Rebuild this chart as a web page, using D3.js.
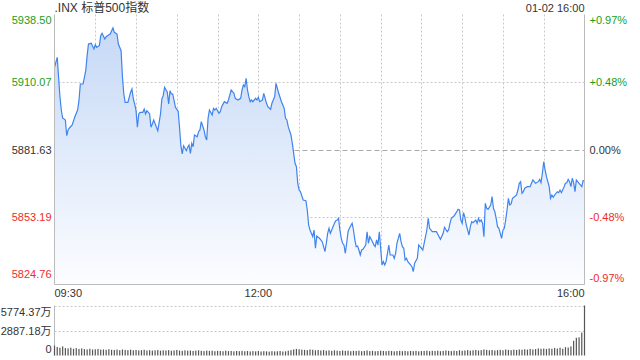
<!DOCTYPE html>
<html>
<head>
<meta charset="utf-8">
<script src="https://cdn.jsdelivr.net/npm/d3@7"></script>
<style>
  body { margin: 0; background: #fff; }
  svg text { font-family: "Liberation Sans", Arial, "Noto Sans CJK SC", sans-serif; }
</style>
</head>
<body>
<div id="chart"></div>
<script>
// data
const title = ".INX 标普500指数";
const stamp = "01-02 16:00";
const preClose = 5881.63;
const priceTicks = [5938.50, 5910.07, 5881.63, 5853.19, 5824.76];
const pctTicks = ["+0.97%", "+0.48%", "0.00%", "-0.48%", "-0.97%"];
const timeLabels = ["09:30", "12:00", "16:00"];
const timeLabelMins = [0, 150, 390];
const volTicks = [5774.37, 2887.18, 0];

// minutes after 09:30
const mins = [0,2,4,5,6,8,9,10,11,13,15,17,18,19,21,23,24,25,27,29,30,31,33,34,35,37,38,40,41,43,44,46,47,49,50,51,52,54,56,57,58,59,60,61,62,63,65,66,67,68,70,71,72,73,75,76,78,79,80,81,83,84,85,86,87,88,89,91,92,93,94,95,97,98,99,100,101,102,103,105,106,107,108,110,111,112,113,114,116,117,118,119,121,122,123,125,127,128,130,132,133,135,137,138,139,140,141,142,143,144,145,146,148,149,150,151,153,154,155,156,157,159,160,162,163,164,165,167,168,169,170,171,172,174,175,177,178,179,180,181,183,185,186,187,188,189,190,191,192,193,194,195,197,198,199,200,201,202,203,204,206,207,208,209,210,211,212,213,214,215,216,217,219,220,221,222,223,224,225,226,227,229,230,231,232,234,235,236,237,238,239,240,241,242,243,244,245,246,247,249,250,251,252,254,255,256,257,258,259,260,262,263,264,265,267,268,269,270,271,273,274,275,276,278,279,281,283,284,286,287,289,290,291,292,294,296,297,298,299,300,301,302,303,305,306,307,308,310,311,312,313,314,315,316,317,318,319,321,322,323,324,325,326,327,329,330,331,332,333,334,335,336,337,338,340,341,342,343,344,345,346,348,350,351,352,353,354,356,357,358,359,360,361,362,364,365,366,367,368,370,371,372,373,375,376,377,378,379,380,381,382,383,384,386,387,388,389,390];

const prices = [5916.26,5920.47,5903.87,5898.27,5894.90,5894.06,5887.45,5889.85,5890.69,5891.95,5895.45,5898.27,5902.19,5909.22,5909.22,5914.83,5921.15,5926.07,5926.37,5923.97,5925.78,5924.68,5925.36,5929.57,5930.58,5928.18,5929.15,5929.99,5930.29,5932.81,5931.00,5930.29,5926.07,5923.25,5912.05,5905.01,5901.52,5901.52,5905.73,5907.12,5902.91,5900.80,5897.98,5890.98,5896.59,5897.30,5897.30,5898.69,5896.59,5897.98,5896.59,5890.98,5892.37,5894.06,5890.98,5889.55,5896.59,5902.91,5904.30,5907.83,5905.73,5900.80,5906.40,5905.01,5905.01,5902.19,5899.41,5897.72,5890.98,5883.23,5879.74,5883.23,5881.13,5882.56,5883.53,5880.03,5884.24,5882.81,5887.74,5887.02,5889.13,5889.85,5893.34,5889.85,5887.02,5885.63,5894.77,5898.27,5896.17,5898.99,5898.27,5898.99,5896.88,5897.56,5899.66,5901.77,5901.09,5902.48,5906.70,5905.31,5903.20,5902.48,5903.20,5906.70,5908.80,5908.09,5911.63,5906.70,5903.87,5901.77,5902.48,5901.77,5903.20,5902.48,5903.62,5901.77,5902.48,5905.31,5903.20,5901.09,5899.66,5898.57,5901.09,5903.87,5909.52,5907.41,5905.31,5901.77,5900.38,5898.99,5894.77,5894.06,5891.24,5887.74,5884.24,5875.82,5874.39,5867.39,5864.57,5863.85,5860.36,5860.06,5856.15,5849.83,5847.72,5846.33,5844.90,5847.72,5840.01,5845.19,5844.65,5844.22,5842.79,5840.69,5838.58,5842.12,5846.33,5848.44,5846.33,5847.72,5850.54,5851.64,5851.93,5852.65,5847.72,5844.22,5842.12,5841.40,5837.91,5842.12,5847.00,5848.44,5850.54,5847.72,5843.51,5840.69,5840.98,5839.29,5837.19,5839.29,5839.59,5841.40,5847.00,5842.12,5844.90,5842.79,5841.40,5840.69,5843.51,5841.40,5847.00,5840.01,5832.98,5834.37,5832.98,5834.37,5837.91,5841.40,5837.19,5837.19,5835.80,5837.91,5842.12,5846.33,5842.79,5840.69,5840.01,5835.08,5835.80,5834.37,5832.98,5832.26,5830.15,5833.69,5835.80,5841.40,5840.69,5840.01,5839.29,5844.90,5847.72,5852.65,5848.44,5847.00,5847.00,5847.00,5844.90,5843.80,5846.33,5848.86,5847.00,5847.72,5850.54,5852.65,5853.62,5855.43,5856.44,5856.15,5851.93,5850.54,5855.01,5853.07,5849.83,5845.61,5849.11,5851.22,5850.80,5851.93,5850.54,5852.65,5851.22,5851.93,5850.54,5844.90,5858.97,5856.86,5856.44,5858.25,5861.75,5856.86,5855.43,5852.65,5849.11,5848.44,5844.22,5847.72,5848.44,5851.93,5856.15,5861.07,5858.25,5858.67,5861.07,5861.49,5862.46,5864.57,5867.39,5868.07,5863.18,5863.85,5865.29,5865.96,5865.96,5867.39,5868.78,5868.07,5867.39,5868.07,5869.08,5867.65,5871.61,5876.49,5873.00,5870.17,5865.96,5861.07,5862.46,5861.49,5862.46,5863.85,5863.43,5864.57,5863.43,5865.96,5867.39,5867.65,5869.08,5868.07,5865.96,5869.50,5867.65,5863.85,5868.78,5867.39,5866.68,5865.96,5868.49,5868.49];

// volume (万) per 2 minutes, 09:30 .. 16:00
const volumes = [
  1150, 980, 900, 1050, 860, 820, 900, 780, 850, 760,
  820, 740, 700, 780, 690, 720, 760, 680, 700, 650,
  720, 660, 640, 690, 610, 700, 650, 620, 680, 600,
  640, 590, 620, 660, 580, 610, 570, 600, 630, 560,
  600, 580, 620, 550, 590, 640, 570, 540, 600, 560,
  580, 520, 560, 600, 540, 510, 570, 530, 560, 500,
  540, 520, 490, 560, 510, 530, 480, 520, 500, 540,
  490, 520, 470, 510, 480, 530, 460, 500, 480, 450,
  500, 470, 490, 520, 460, 480, 560, 620, 700, 760,
  720, 680, 650, 620, 700, 660, 600, 640, 580, 620,
  560, 590, 540, 600, 560, 520, 580, 540, 560, 500,
  540, 520, 560, 500, 530, 580, 510, 540, 490, 520,
  560, 530, 500, 540, 520, 480, 510, 540, 500, 530,
  490, 520, 500, 540, 480, 510, 530, 560, 500, 540,
  520, 560, 500, 530, 580, 540, 510, 560, 520, 600,
  540, 580, 620, 560, 600, 640, 580, 620, 700, 650,
  600, 640, 580, 620, 660, 600, 700, 650, 620, 680,
  640, 700, 660, 720, 680, 760, 700, 740, 820, 780,
  800, 760, 820, 780, 860, 800, 900, 780, 960, 920,
  1050, 1700, 2050, 2100, 2650, 5774.37
];

const W = 640, H = 360;
const L = 54.5, R = 584.5, T = 14.5, B = 284.5;
const VT = 305.5, VB = 355.5;

const green = "#1a9e1a", red = "#ee2c2c", dark = "#333";
const colorFor = v => v > preClose ? green : v < preClose ? red : dark;

const svg = d3.select("#chart").append("svg")
  .attr("width", W).attr("height", H);

const x = d3.scaleLinear().domain([0, 390]).range([L, R]);
const y = d3.scaleLinear().domain([priceTicks[4], priceTicks[0]]).range([B, T]);
const vy = d3.scaleLinear().domain([0, volTicks[0]]).range([VB, VT]);

// gradient for the area
const grad = svg.append("defs").append("linearGradient")
  .attr("id", "fillGrad")
  .attr("gradientUnits", "userSpaceOnUse")
  .attr("x1", 0).attr("y1", T).attr("x2", 0).attr("y2", B);
grad.append("stop").attr("offset", 0).attr("stop-color", "#c3d7f6");
grad.append("stop").attr("offset", 1).attr("stop-color", "#fcfdff");

// grid - vertical every 30 min
const gridMins = d3.range(30, 390, 30);
svg.append("g").selectAll("line")
  .data(gridMins)
  .join("line")
  .attr("x1", d => Math.round(x(d)) + 0.5).attr("x2", d => Math.round(x(d)) + 0.5)
  .attr("y1", T).attr("y2", B)
  .attr("stroke", "#c8c8c8").attr("stroke-dasharray", "2,2");

// grid - horizontal
svg.append("g").selectAll("line")
  .data(priceTicks.slice(1, 4))
  .join("line")
  .attr("x1", L).attr("x2", R)
  .attr("y1", d => Math.round(y(d)) + 0.5).attr("y2", d => Math.round(y(d)) + 0.5)
  .attr("stroke", d => d === preClose ? "#aaa" : "#c8c8c8")
  .attr("stroke-dasharray", d => d === preClose ? "5,3" : "2,2");

// watermark
svg.append("text")
  .attr("x", R - 12).attr("y", B - 3)
  .attr("text-anchor", "end")
  .attr("font-size", 12)
  .attr("fill", "#d0d0d0")
  .text("sina.com");

// area + line
const pts = mins.map((m, i) => [m, prices[i]]);
svg.append("path")
  .datum(pts)
  .attr("d", d3.area().x(d => x(d[0])).y0(B).y1(d => y(d[1])))
  .attr("fill", "url(#fillGrad)");

svg.append("path")
  .datum(pts)
  .attr("d", d3.line().x(d => x(d[0])).y(d => y(d[1])))
  .attr("fill", "none")
  .attr("stroke", "#3f84ee")
  .attr("stroke-width", 1.2);

// frame
svg.append("path")
  .attr("d", `M${L},${T}V${B}H${R}V${T}`)
  .attr("fill", "none").attr("stroke", "#bbb");

// left price labels
svg.append("g").selectAll("text")
  .data(priceTicks)
  .join("text")
  .attr("x", L - 3)
  .attr("y", (d, i) => i === 0 ? y(d) + 9 : i === 4 ? y(d) - 7 : y(d) + 4)
  .attr("text-anchor", "end")
  .attr("font-size", 11)
  .attr("fill", colorFor)
  .text(d => d.toFixed(2));

// right pct labels
svg.append("g").selectAll("text")
  .data(pctTicks)
  .join("text")
  .attr("x", R + 5)
  .attr("y", (d, i) => i === 0 ? y(priceTicks[i]) + 9 : i === 4 ? y(priceTicks[i]) - 3 : y(priceTicks[i]) + 4)
  .attr("font-size", 11)
  .attr("fill", (d, i) => colorFor(priceTicks[i]))
  .text(d => d);

// title and stamp
svg.append("text")
  .attr("x", L).attr("y", 12)
  .attr("font-size", 12).attr("fill", dark)
  .text(title);
svg.append("text")
  .attr("x", R).attr("y", 12)
  .attr("text-anchor", "end")
  .attr("font-size", 11).attr("fill", dark)
  .text(stamp);

// time labels
svg.append("g").selectAll("text")
  .data(timeLabels)
  .join("text")
  .attr("x", (d, i) => x(timeLabelMins[i]))
  .attr("y", 297)
  .attr("text-anchor", (d, i) => i === 0 ? "start" : i === 2 ? "end" : "middle")
  .attr("font-size", 11).attr("fill", dark)
  .text(d => d);

// volume panel
svg.append("g").selectAll("line")
  .data(volTicks.slice(0, 2))
  .join("line")
  .attr("x1", L).attr("x2", R)
  .attr("y1", d => Math.round(vy(d)) + 0.5).attr("y2", d => Math.round(vy(d)) + 0.5)
  .attr("stroke", "#c8c8c8").attr("stroke-dasharray", "2,2");

svg.append("line")
  .attr("x1", L).attr("x2", L).attr("y1", VT).attr("y2", VB)
  .attr("stroke", "#bbb");

svg.append("g").selectAll("rect")
  .data(volumes)
  .join("rect")
  .attr("x", (d, i) => x(i * 2) - 0.6)
  .attr("y", d => vy(d))
  .attr("width", 1.2)
  .attr("height", d => VB - vy(d))
  .attr("fill", "#555");

svg.append("g").selectAll("text")
  .data(volTicks)
  .join("text")
  .attr("x", L - 3)
  .attr("y", (d, i) => i === 0 ? vy(d) + 10 : i === 2 ? vy(d) - 3 : vy(d) + 4)
  .attr("text-anchor", "end")
  .attr("font-size", 11).attr("fill", dark)
  .text(d => d === 0 ? "0" : d.toFixed(2) + "万");
</script>
</body>
</html>
